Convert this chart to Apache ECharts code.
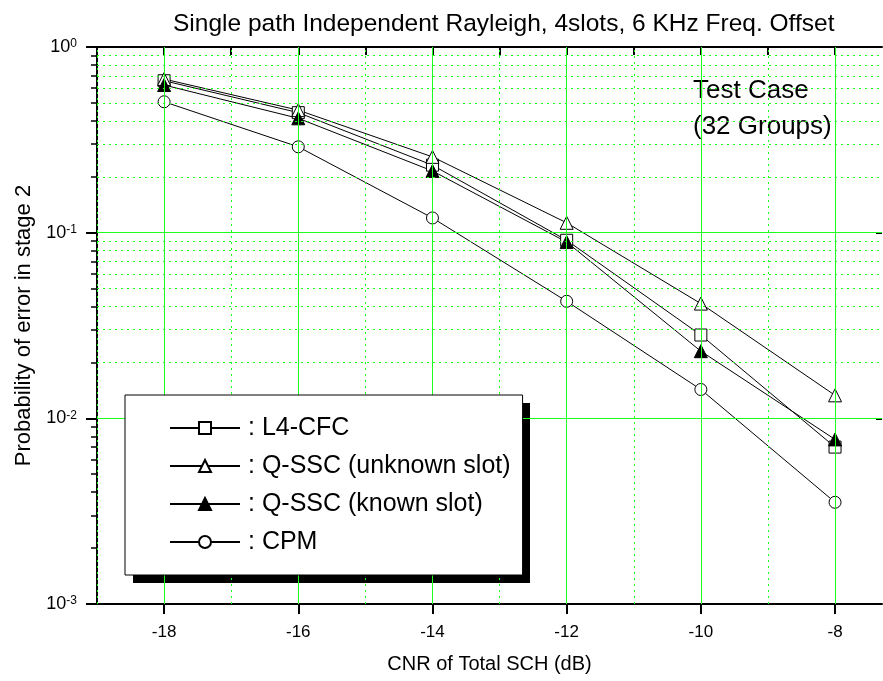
<!DOCTYPE html>
<html>
<head>
<meta charset="utf-8">
<script src="https://cdn.jsdelivr.net/npm/echarts@6/dist/echarts.min.js"></script>
<style>
  html, body { margin: 0; padding: 0; background: #fff; }
  #chart { width: 883px; height: 681px; }
</style>
</head>
<body>
<div id="chart"></div>
<script>
// CNR of total SCH (dB) at which each curve was evaluated
const cnrValues = [-18, -16, -14, -12, -10, -8];

// Probability of error in stage 2
const l4Cfc = [0.658, 0.443, 0.231, 0.091, 0.0281, 0.0070];
const qSscUnknown = [0.672, 0.457, 0.256, 0.113, 0.0415, 0.0133];
const qSscKnown = [0.624, 0.413, 0.215, 0.089, 0.0230, 0.0077];
const cpm = [0.507, 0.290, 0.120, 0.0427, 0.0143, 0.00353];

const seriesNames = ['L4-CFC', 'Q-SSC (unknown slot)', 'Q-SSC (known slot)', 'CPM'];

// x axis ticks: labelled every 2 dB, ticked every 1 dB
const xMajorTicks = [-18, -16, -14, -12, -10, -8];
const xMinorTicks = [-19, -17, -15, -13, -11, -9];
const xAllTicks = [-19, -18, -17, -16, -15, -14, -13, -12, -11, -10, -9, -8];

// y axis: decades and the 2..9 sub-divisions of each decade
const yDecadeValues = [0.001, 0.01, 0.1, 1];
const ySubMultipliers = [2, 3, 4, 5, 6, 7, 8, 9];

const FONT = "'Liberation Sans', Arial, sans-serif";
const GREEN = '#1cff1c';

const ySubValues = [];
const ySubLog = [];
yDecadeValues.slice(0, -1).forEach(function (d) {
  ySubMultipliers.forEach(function (m) {
    ySubValues.push(d * m);
    ySubLog.push(Math.log10(d * m));
  });
});

function pairs(values) {
  return cnrValues.map(function (x, i) { return [x, values[i]]; });
}

// grid lines, drawn as mark lines through the axes' own scales
const solidStyle = { color: GREEN, width: 1, type: 'solid' };
const dottedStyle = { color: GREEN, width: 1, type: [2, 4] };
const gridLines = []
  .concat(xMajorTicks.map(function (v) { return { xAxis: v, lineStyle: solidStyle }; }))
  .concat(xMinorTicks.map(function (v) { return { xAxis: v, lineStyle: dottedStyle }; }))
  .concat(yDecadeValues.slice(1, -1).map(function (v) { return { yAxis: v, lineStyle: solidStyle }; }))
  .concat(ySubValues.map(function (v) { return { yAxis: v, lineStyle: dottedStyle }; }));

const chart = echarts.init(document.getElementById('chart'), null, { renderer: 'canvas' });

const markerStyle = function (fill) {
  return { color: fill, borderColor: '#000', borderWidth: 1 };
};

const option = {
  animation: false,
  backgroundColor: '#fff',
  textStyle: { fontFamily: FONT },
  title: {
    text: 'Single path Independent Rayleigh, 4slots, 6 KHz Freq. Offset',
    left: 173,
    top: 12,
    padding: 0,
    textStyle: { fontFamily: FONT, fontSize: 24.5, fontWeight: 'normal', color: '#000' }
  },
  grid: {
    left: 97, right: 1, top: 47, bottom: 77,
    outerBoundsMode: 'none'
  },
  legend: {
    orient: 'vertical',
    left: 125,
    top: 395,
    z: 6,
    padding: [18, 12, 18, 44],
    itemGap: 8,
    itemWidth: 70,
    itemHeight: 15,
    backgroundColor: '#fff',
    borderColor: '#000',
    borderWidth: 1,
    borderRadius: 0,
    data: seriesNames,
    formatter: function (name) { return ': ' + name; },
    textStyle: { fontFamily: FONT, fontSize: 25, color: '#000', lineHeight: 30, padding: [0, 0, 0, 3] }
  },
  graphic: [
    {
      // drop shadow behind the legend box
      type: 'rect', z: 5, silent: true,
      shape: { x: 133, y: 403, width: 397, height: 180 },
      style: { fill: '#000' }
    },
    {
      type: 'text', left: 693, top: 78, silent: true,
      style: { text: 'Test Case', font: '26px ' + FONT, fill: '#000' }
    },
    {
      type: 'text', left: 693, top: 114, silent: true,
      style: { text: '(32 Groups)', font: '26px ' + FONT, fill: '#000' }
    }
  ],
  xAxis: [
    {
      // bottom axis: labelled even values
      type: 'value', position: 'bottom', min: -19, max: -7.3,
      name: 'CNR of Total SCH (dB)',
      nameLocation: 'middle', nameGap: 50,
      nameTextStyle: { fontFamily: FONT, fontSize: 20, color: '#000' },
      axisLine: { show: true, onZero: false, lineStyle: { color: '#000', width: 2 } },
      axisTick: { show: true, inside: false, length: 10, customValues: xMajorTicks, lineStyle: { color: '#000', width: 2 } },
      axisLabel: { show: true, customValues: xMajorTicks, margin: 20, fontFamily: FONT, fontSize: 17, color: '#000',
        formatter: function (v) { return String(v); } },
      splitLine: { show: false }
    },
    {
      // bottom axis: shorter ticks at odd values
      type: 'value', position: 'bottom', min: -19, max: -7.3,
      axisLine: { show: false },
      axisTick: { show: true, inside: false, length: 6, customValues: xMinorTicks, lineStyle: { color: '#000', width: 2 } },
      axisLabel: { show: false },
      splitLine: { show: false }
    },
    {
      // top frame with inward ticks
      type: 'value', position: 'top', min: -19, max: -7.3,
      axisLine: { show: true, onZero: false, lineStyle: { color: '#000', width: 2 } },
      axisTick: { show: true, inside: true, length: 8, customValues: xAllTicks, lineStyle: { color: '#000', width: 2 } },
      axisLabel: { show: false },
      splitLine: { show: false }
    }
  ],
  yAxis: [
    {
      type: 'log', logBase: 10, min: 0.001, max: 1, position: 'left',
      name: 'Probability of error in stage 2',
      nameLocation: 'middle', nameGap: 60, nameRotate: 90,
      nameTextStyle: { fontFamily: FONT, fontSize: 22, color: '#000' },
      axisLine: { show: true, onZero: false, lineStyle: { color: '#000', width: 2 } },
      axisTick: { show: true, inside: false, length: 11, lineStyle: { color: '#000', width: 2 } },
      axisLabel: {
        margin: 20,
        formatter: function (v) {
          const e = Math.round(Math.log10(v));
          return '{b|10}{s|' + e + '}';
        },
        rich: {
          b: { fontFamily: FONT, fontSize: 18, color: '#000', verticalAlign: 'bottom' },
          s: { fontFamily: FONT, fontSize: 12, color: '#000', verticalAlign: 'top' }
        }
      },
      splitLine: { show: false }
    },
    {
      // sub-decade ticks, placed in log10 space
      type: 'value', min: -3, max: 0, position: 'left',
      axisLine: { show: false },
      axisTick: { show: true, inside: false, length: 6, customValues: ySubLog, lineStyle: { color: '#000', width: 1.5 } },
      axisLabel: { show: false },
      splitLine: { show: false }
    },
    {
      // right frame ticks
      type: 'log', logBase: 10, min: 0.001, max: 1, position: 'right',
      axisLine: { show: false },
      axisTick: { show: true, inside: true, length: 6, lineStyle: { color: '#000', width: 2 } },
      axisLabel: { show: false },
      splitLine: { show: false }
    }
  ],
  series: [
    {
      // grid lines only
      name: 'grid', type: 'line', data: [], z: 1, silent: true,
      markLine: {
        silent: true, symbol: ['none', 'none'], label: { show: false },
        emphasis: { disabled: true }, animation: false,
        data: gridLines
      }
    },
    {
      name: seriesNames[0], type: 'line', data: pairs(l4Cfc),
      symbol: 'rect', symbolSize: 12,
      lineStyle: { color: '#000', width: 1 },
      itemStyle: markerStyle('#fff')
    },
    {
      name: seriesNames[1], type: 'line', data: pairs(qSscUnknown),
      symbol: 'triangle', symbolSize: 13,
      lineStyle: { color: '#000', width: 1 },
      itemStyle: markerStyle('#fff')
    },
    {
      name: seriesNames[2], type: 'line', data: pairs(qSscKnown),
      symbol: 'triangle', symbolSize: 13,
      lineStyle: { color: '#000', width: 1 },
      itemStyle: markerStyle('#000')
    },
    {
      name: seriesNames[3], type: 'line', data: pairs(cpm),
      symbol: 'circle', symbolSize: 12,
      lineStyle: { color: '#000', width: 1 },
      itemStyle: markerStyle('#fff')
    }
  ]
};

chart.setOption(option);
</script>
</body>
</html>
